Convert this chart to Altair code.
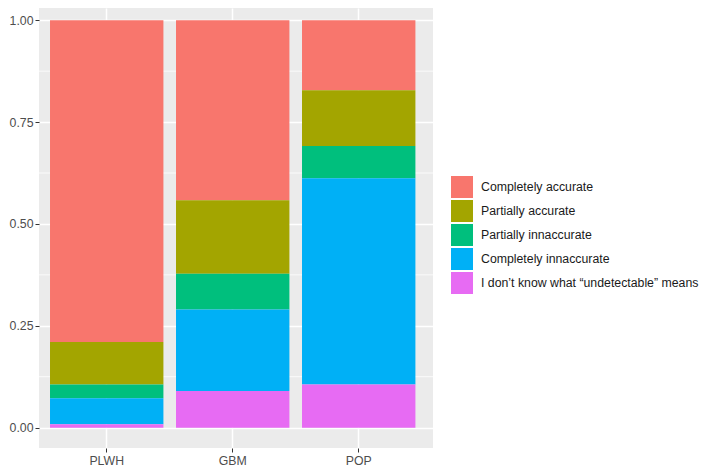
import altair as alt
import pandas as pd

groups = ["PLWH", "GBM", "POP"]
responses = [
    "Completely accurate",
    "Partially accurate",
    "Partially innaccurate",
    "Completely innaccurate",
    "I don\u2019t know what \u201cundetectable\u201d means",
]
colors = ["#F8766D", "#A3A500", "#00BF7D", "#00B0F6", "#E76BF3"]

completely_accurate = [0.790, 0.442, 0.172]
partially_accurate = [0.104, 0.180, 0.137]
partially_innaccurate = [0.034, 0.088, 0.079]
completely_innaccurate = [0.064, 0.200, 0.506]
dont_know = [0.008, 0.090, 0.106]

y_ticks = [0.0, 0.25, 0.5, 0.75, 1.0]
y_minor = [0.125, 0.375, 0.625, 0.875]

series = [completely_accurate, partially_accurate, partially_innaccurate,
          completely_innaccurate, dont_know]
rows = []
for ri, (resp, vals) in enumerate(zip(responses, series)):
    for g, v in zip(groups, vals):
        rows.append({"group": g, "response": resp, "value": v,
                     "stackorder": len(responses) - ri})
df = pd.DataFrame(rows)
minor_df = pd.DataFrame({"value": y_minor})

FONT = "Liberation Sans"
FS = 12.3

yscale = alt.Scale(domain=[-0.05, 1.03], nice=False, zero=False)
yaxis = alt.Axis(title=None, values=y_ticks, format=".2f",
                 labelColor="#4D4D4D", labelFontSize=FS, labelFont=FONT,
                 tickColor="#333333", tickSize=4, tickWidth=1,
                 domain=False, grid=True, gridColor="white",
                 gridWidth=1.5, labelPadding=2)

minor = alt.Chart(minor_df).mark_rule(color="white", strokeWidth=0.8).encode(
    y=alt.Y("value:Q", scale=yscale, axis=yaxis)
)

bars = alt.Chart(df).mark_bar().encode(
    x=alt.X("group:N", sort=groups,
            scale=alt.Scale(paddingInner=0.1, paddingOuter=0.1135, align=0.385),
            axis=alt.Axis(title=None, labelAngle=0, labelColor="#4D4D4D",
                          labelFontSize=FS, labelFont=FONT, tickColor="#333333",
                          tickSize=4, tickWidth=1, domain=False, grid=True,
                          gridColor="white", gridWidth=1.5, bandPosition=0.5,
                          labelPadding=2)),
    y=alt.Y("value:Q", stack="normalize", scale=yscale, axis=yaxis),
    color=alt.Color("response:N", sort=responses,
                    scale=alt.Scale(domain=responses, range=colors),
                    legend=alt.Legend(title=None, orient="none", legendX=412,
                                      legendY=168, symbolType="square",
                                      symbolSize=484, symbolStrokeWidth=0,
                                      symbolOpacity=1, labelFontSize=FS,
                                      labelFont=FONT, labelColor="#1A1A1A",
                                      labelOffset=8, rowPadding=2, padding=0,
                                      labelLimit=400)),
    order=alt.Order("stackorder:Q", sort="ascending"),
)

chart = alt.layer(minor, bars).properties(
    width=394, height=440,
    autosize=alt.AutoSizeParams(type="none"),
    padding={"left": 31, "top": 0, "right": 268, "bottom": 20},
).configure_view(fill="#EBEBEB", strokeWidth=0)

chart.save("out.html", embed_options={"renderer": "svg", "actions": False})
